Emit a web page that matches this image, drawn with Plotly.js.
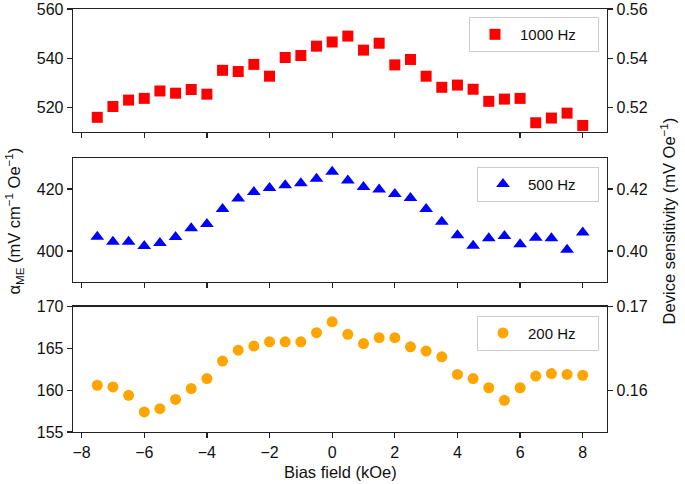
<!DOCTYPE html>
<html>
<head>
<meta charset="utf-8">
<script src="https://cdn.plot.ly/plotly-3.0.1.min.js"></script>
<style>html,body{margin:0;padding:0;background:#fff;}#chart{width:685px;height:484px;}</style>
</head>
<body>
<div id="chart"></div>
<script>
// Bias field (kOe)
const biasField = [-7.5,-7,-6.5,-6,-5.5,-5,-4.5,-4,-3.5,-3,-2.5,-2,-1.5,-1,-0.5,0,0.5,1,1.5,2,2.5,3,3.5,4,4.5,5,5.5,6,6.5,7,7.5,8];
// alpha_ME (mV cm^-1 Oe^-1)
const alpha1000Hz = [516.0,520.4,523.0,523.7,526.7,525.8,527.3,525.4,535.1,534.6,537.5,532.7,540.3,541.1,544.9,546.6,549.0,543.3,546.1,537.3,539.5,532.7,528.2,529.1,527.4,522.5,523.4,523.7,513.8,515.7,517.7,512.7];
const alpha500Hz = [404.6,403.0,403.0,401.6,402.6,404.5,407.3,408.7,413.5,416.9,419.0,420.3,421.2,421.8,423.3,425.5,422.7,420.6,419.8,418.4,417.1,413.5,409.4,405.1,401.7,404.1,404.8,402.2,404.3,404.1,400.4,406.0];
const alpha200Hz = [160.6,160.4,159.4,157.4,157.8,158.9,160.2,161.4,163.5,164.8,165.3,165.8,165.8,165.8,166.9,168.2,166.7,165.6,166.3,166.3,165.2,164.7,164.0,161.9,161.4,160.3,158.8,160.3,161.7,162.0,161.9,161.8];
const seriesNames = ["1000 Hz", "500 Hz", "200 Hz"];
// tick values
const xTicks = [-8, -6, -4, -2, 0, 2, 4, 6, 8];
const yTicks1000 = [520, 540, 560];
const yTicks500 = [400, 420];
const yTicks200 = [155, 160, 165, 170];
const sTicks1000 = [0.52, 0.54, 0.56];
const sTicks500 = [0.40, 0.42];
const sTicks200 = [0.16, 0.17];
// device sensitivity (mV Oe^-1) = alpha / 1000 (right axes share the same scale)
const sensitivityScale = 1000;

const FONT = "Liberation Sans, Arial, Helvetica, sans-serif";
const NB = "\u00a0\u00a0\u00a0\u00a0";

function mk(y, xa, ya, name, color, symbol, leg) {
  return {x: biasField, y: y, xaxis: xa, yaxis: ya, type: "scatter", mode: "markers", name: name + NB,
    legend: leg, marker: {color: color, symbol: symbol, size: symbol === "triangle-up" ? 12 : 11, line: {width: 0}}};
}
function ghost(y, xa, ya) {
  return {x: biasField, y: y.map(v => v / sensitivityScale), xaxis: xa, yaxis: ya, type: "scatter", mode: "markers",
    marker: {opacity: 0}, showlegend: false, hoverinfo: "skip"};
}

const data = [
  mk(alpha1000Hz, "x", "y", seriesNames[0], "#ff0000", "square", "legend"),
  mk(alpha500Hz, "x2", "y2", seriesNames[1], "#0000ff", "triangle-up", "legend2"),
  mk(alpha200Hz, "x3", "y3", seriesNames[2], "#ffa500", "circle", "legend3"),
  ghost(alpha1000Hz, "x", "y4"),
  ghost(alpha500Hz, "x2", "y5"),
  ghost(alpha200Hz, "x3", "y6")
];

const xr = [-8.275, 8.775];
const lineStyle = {showline: true, linecolor: "#222", linewidth: 1.3, ticks: "outside", ticklen: 5, tickwidth: 1.3, tickcolor: "#222",
  showgrid: false, zeroline: false, ticklabeloverflow: "allow", tickfont: {family: FONT, size: 16, color: "#111"}};
function xax(anchor, labels) {
  return Object.assign({}, lineStyle, {anchor: anchor, range: xr, tickmode: "array", tickvals: xTicks, mirror: true, showticklabels: labels, domain: [0, 1]});
}
function yl(dom, range, ticks) {
  return Object.assign({}, lineStyle, {domain: dom, range: range, tickmode: "array", tickvals: ticks});
}
function yr(over, anchor, range, ticks) {
  return Object.assign({}, lineStyle, {overlaying: over, anchor: anchor, side: "right", range: range, tickmode: "array", tickvals: ticks,
    ticktext: ticks.map(v => v.toFixed(2))});
}

const d1 = [0.709, 1], d2 = [0.3545, 0.648], d3 = [0, 0.296];
function leg(y) {
  return {x: 0.985, y: y, xanchor: "right", yanchor: "top", bgcolor: "#ffffff", bordercolor: "#cccccc", borderwidth: 1,
    font: {family: FONT, size: 15, color: "#111"}, itemwidth: 40};
}

const layout = {
  width: 685, height: 484,
  margin: {l: 73, r: 78, t: 9, b: 52},
  paper_bgcolor: "#ffffff", plot_bgcolor: "#ffffff",
  font: {family: FONT, size: 15, color: "#111"},
  xaxis: xax("y", false),
  xaxis2: xax("y2", false),
  xaxis3: xax("y3", true),
  yaxis: yl(d1, [510, 560], yTicks1000),
  yaxis2: yl(d2, [390, 430], yTicks500),
  yaxis3: yl(d3, [155, 170], yTicks200),
  yaxis4: yr("y", "x", [0.510, 0.560], sTicks1000),
  yaxis5: yr("y2", "x2", [0.390, 0.430], sTicks500),
  yaxis6: yr("y3", "x3", [0.155, 0.170], sTicks200),
  legend: leg(0.981),
  legend2: leg(0.627),
  legend3: leg(0.275),
  showlegend: true,
  annotations: [
    {text: "Bias field (kOe)", xref: "paper", yref: "paper", x: 0.5, y: -0.0945, xanchor: "center", yanchor: "middle", showarrow: false, font: {family: FONT, size: 16.5, color: "#111"}},
    {text: "α<sub>ME</sub> (mV cm<sup>−1</sup> Oe<sup>−1</sup>)", xref: "paper", yref: "paper", x: -0.1105, y: 0.5, xanchor: "center", yanchor: "middle", textangle: -90, showarrow: false, font: {family: FONT, size: 16.5, color: "#111"}},
    {text: "Device sensitivity (mV Oe<sup>−1</sup>)", xref: "paper", yref: "paper", x: 1.114, y: 0.5, xanchor: "center", yanchor: "middle", textangle: -90, showarrow: false, font: {family: FONT, size: 16.5, color: "#111"}}
  ]
};

Plotly.newPlot("chart", data, layout, {displayModeBar: false, staticPlot: true});
</script>
</body>
</html>
